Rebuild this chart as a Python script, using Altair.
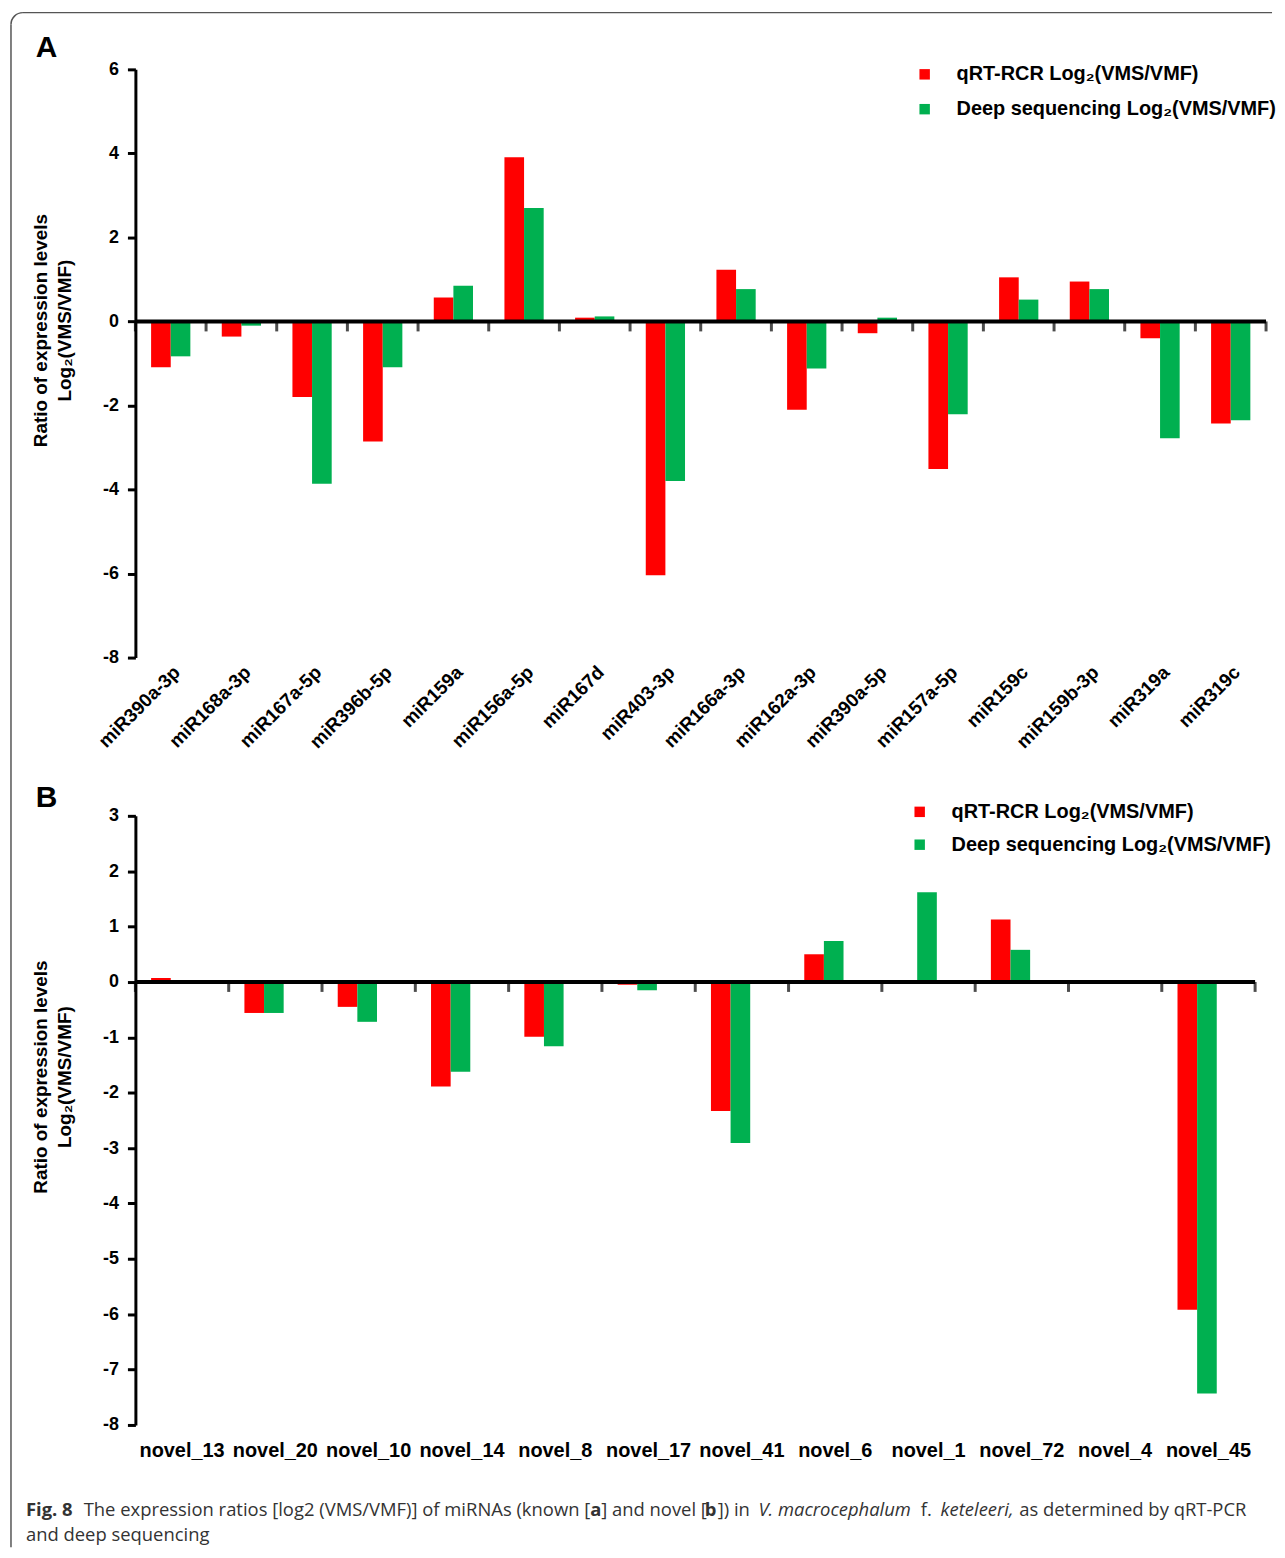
import math
import altair as alt
import pandas as pd

# ---------------- data ----------------
S1 = "qRT-RCR Log₂(VMS/VMF)"
S2 = "Deep sequencing Log₂(VMS/VMF)"

known = ["miR390a-3p", "miR168a-3p", "miR167a-5p", "miR396b-5p", "miR159a",
         "miR156a-5p", "miR167d", "miR403-3p", "miR166a-3p", "miR162a-3p",
         "miR390a-5p", "miR157a-5p", "miR159c", "miR159b-3p", "miR319a", "miR319c"]
known_qrt = [-1.09, -0.36, -1.80, -2.86, 0.57, 3.91, 0.09, -6.04,
             1.23, -2.10, -0.28, -3.51, 1.05, 0.95, -0.40, -2.43]
known_seq = [-0.83, -0.10, -3.86, -1.09, 0.85, 2.70, 0.12, -3.80,
             0.77, -1.12, 0.09, -2.21, 0.52, 0.77, -2.78, -2.35]

novel = ["novel_13", "novel_20", "novel_10", "novel_14", "novel_8", "novel_17",
         "novel_41", "novel_6", "novel_1", "novel_72", "novel_4", "novel_45"]
novel_qrt = [0.07, -0.56, -0.45, -1.89, -0.99, -0.05, -2.33, 0.50, 0.0, 1.13, 0.0, -5.92]
novel_seq = [0.0, -0.56, -0.72, -1.62, -1.16, -0.15, -2.91, 0.74, 1.62, 0.58, 0.0, -7.43]

ticks_a = [6, 4, 2, 0, -2, -4, -6, -8]
ticks_b = [3, 2, 1, 0, -1, -2, -3, -4, -5, -6, -7, -8]

y_title = ["Ratio of expression levels", "Log₂(VMS/VMF)"]

caption_segments = [
    "Fig. 8",
    "The expression ratios [log2 (VMS/VMF)] of miRNAs (known [",
    "a",
    "] and novel [",
    "b",
    "]) in",
    "V. macrocephalum",
    "f.",
    "keteleeri,",
    "as determined by qRT-PCR",
    "and deep sequencing",
]

RED = "#ff0000"
GREEN = "#00b050"
FONT = "Liberation Sans"
CAPFONT = "Open Sans"
PLOT_LEFT, A_TOP, B_TOP = 135, 67, 817

one = pd.DataFrame({"k": [0]})


def letter_layer(letter, baseline_y, top):
    return alt.Chart(one).mark_text(
        align="left", baseline="alphabetic", font=FONT, fontSize=30,
        fontWeight="bold", color="black").encode(
        x=alt.value(35 - PLOT_LEFT), y=alt.value(baseline_y - top),
        text=alt.value(letter))


def panel(cats, qrt, seq, width, height, ydom, yvals, legx, legy, rowpad,
          xaxis, pad_outer, extra):
    n = len(cats)
    df = pd.DataFrame({
        "cat": cats * 2,
        "series": [S1] * n + [S2] * n,
        "value": qrt + seq,
    })
    tdf = pd.DataFrame({"cat": cats, "z": [0] * n})
    edf = pd.DataFrame({"cat": [cats[-1]], "z": [0]})
    yscale = alt.Scale(domain=ydom, nice=False)
    yaxis = alt.Axis(values=yvals, grid=False, domainColor="black", domainWidth=3,
                     tickColor="black", tickWidth=3, tickSize=8, labelPadding=9,
                     labelExpr="'' + datum.value",
                     labelFont=FONT, labelFontSize=18, labelFontWeight="bold",
                     labelColor="black", title=y_title, titleFont=FONT,
                     titleFontSize=19, titleFontWeight="bold", titleColor="black",
                     titleX=-85, titleY=262, titleBaseline="bottom",
                     titleLineHeight=24)
    xenc = dict(sort=cats, axis=xaxis, title=None,
                scale=alt.Scale(paddingInner=0, paddingOuter=0))
    bars = alt.Chart(df).mark_bar().encode(
        x=alt.X("cat:N", **xenc),
        xOffset=alt.XOffset("series:N", sort=[S1, S2],
                            scale=alt.Scale(paddingInner=0, paddingOuter=pad_outer)),
        y=alt.Y("value:Q", scale=yscale, axis=yaxis),
        color=alt.Color("series:N",
                        scale=alt.Scale(domain=[S1, S2], range=[RED, GREEN]),
                        legend=alt.Legend(orient="none", legendX=legx, legendY=legy,
                                          title=None, symbolType="square",
                                          symbolSize=110, symbolStrokeWidth=0,
                                          labelFont=FONT, labelFontSize=20,
                                          labelFontWeight="bold", labelColor="black",
                                          labelOffset=22, rowPadding=rowpad, padding=0,
                                          labelLimit=400)),
    )
    zero = alt.Chart(tdf.head(1)).mark_rule(color="black", strokeWidth=4).encode(
        y=alt.Y("z:Q", scale=yscale, axis=yaxis))
    tk = alt.Chart(tdf).mark_tick(orient="vertical", size=10, thickness=3,
                                  color="black", yOffset=5).encode(
        x=alt.X("cat:N", bandPosition=0, **xenc),
        y=alt.Y("z:Q", scale=yscale, axis=yaxis))
    tk_end = alt.Chart(edf).mark_tick(orient="vertical", size=10, thickness=3,
                                      color="black", yOffset=5).encode(
        x=alt.X("cat:N", bandPosition=1, **xenc),
        y=alt.Y("z:Q", scale=yscale, axis=yaxis))
    layers = [bars, zero, tk, tk_end] + extra
    return alt.layer(*layers).properties(width=width, height=height)


xaxis_a = alt.Axis(domain=False, ticks=False, labelAngle=-45, labelAlign="right",
                   labelBaseline="top", labelPadding=5, labelFont=FONT,
                   labelFontSize=19, labelFontWeight="bold", labelColor="black")
xaxis_b = alt.Axis(domain=False, ticks=False, labelAngle=0, labelAlign="center",
                   labelBaseline="top", labelPadding=16, labelFont=FONT,
                   labelFontSize=20, labelFontWeight="bold", labelColor="black")

# ---------------- caption and frame (drawn relative to panel B plot) --------
seg_style = [
    ("bold", "normal", 25, 1520), ("normal", "normal", 83, 1520),
    ("bold", "normal", 592, 1520), ("normal", "normal", 603, 1520),
    ("bold", "normal", 707, 1520), ("normal", "normal", 720, 1520),
    ("normal", "italic", 761, 1520), ("normal", "normal", 924, 1520),
    ("normal", "italic", 944, 1520), ("normal", "normal", 1023, 1520),
    ("normal", "normal", 25, 1546),
]
extra_b = [letter_layer("B", 808, B_TOP)]
for seg, (fw, fs, px, py) in zip(caption_segments, seg_style):
    extra_b.append(alt.Chart(one).mark_text(
        align="left", baseline="alphabetic", font=CAPFONT, fontSize=18.5,
        fontWeight=fw, fontStyle=fs, color="#333333").encode(
        x=alt.value(px - PLOT_LEFT), y=alt.value(py - B_TOP), text=alt.value(seg)))

FR = "#555555"
r = 12
extra_b.append(alt.Chart(one).mark_rule(color=FR, strokeWidth=1.5).encode(
    x=alt.value(10 - PLOT_LEFT + r), x2=alt.value(1277 - PLOT_LEFT),
    y=alt.value(10 - B_TOP)))
extra_b.append(alt.Chart(one).mark_rule(color=FR, strokeWidth=1.5).encode(
    x=alt.value(10 - PLOT_LEFT),
    y=alt.value(10 - B_TOP + r), y2=alt.value(1552 - B_TOP)))
extra_b.append(alt.Chart(one).mark_arc(color=FR, radius=r + 0.75, radius2=r - 0.75,
                                        theta=3 * math.pi / 2, theta2=2 * math.pi).encode(
    x=alt.value(10 - PLOT_LEFT + r), y=alt.value(10 - B_TOP + r)))

pa = panel(known, known_qrt, known_seq, 1136, 591, [-8, 6], ticks_a,
           783, -5, 15, xaxis_a, 0.8, [letter_layer("A", 55, A_TOP)])
pb = panel(novel, novel_qrt, novel_seq, 1125, 612, [-8, 3], ticks_b,
           778, -14, 13, xaxis_b, 0.75, extra_b)

chart = alt.vconcat(pa, pb, spacing=159, bounds="flush").resolve_scale(
    color="independent", x="independent", y="independent"
).properties(
    padding={"left": 2, "top": 0, "right": 0, "bottom": 0}
).configure_view(strokeWidth=0)

chart.save("out.html", embed_options={"renderer": "svg", "actions": False})
